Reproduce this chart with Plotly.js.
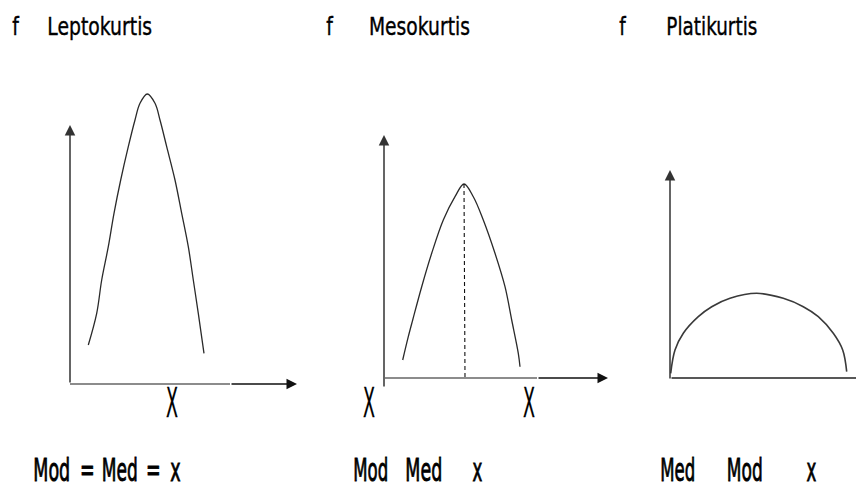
<!DOCTYPE html>
<html><head><meta charset="utf-8">
<script src="https://cdn.plot.ly/plotly-3.0.1.min.js"></script>
<style>html,body{margin:0;padding:0;background:#fff;overflow:hidden}#chart{width:856px;height:491px}</style>
</head><body><div id="chart"></div>
<script>
// ---- texts ----
const panelTitles = ['Leptokurtis', 'Mesokurtis', 'Platikurtis'];
const freqLabel = 'f';
const axisLabel = 'X';
const bottomWords = [['Mod', '=', 'Med', '=', 'x'], ['Mod', 'Med', 'x'], ['Med', 'Mod', 'x']];

// ---- curves (canvas units) ----
const leptoX = [88.3, 96.7, 101.7, 108.3, 114, 120.7, 128.3, 135, 140, 147.3, 155, 160, 166.7, 175, 181.7, 188.3, 193.3, 198.3, 204];
const leptoY = [345, 313.3, 280, 246.7, 213.3, 180, 146.7, 120, 103.3, 94, 103.3, 120, 146.7, 180, 213.3, 246.7, 280, 313.3, 353.3];
const mesoX = [402.7, 408.3, 412.7, 421.7, 431.7, 443.3, 455, 464, 473.3, 483.3, 495, 505, 511.7, 518.3, 520];
const mesoY = [360, 336.7, 320, 286.7, 253.3, 220, 196.7, 184, 196.7, 220, 253.3, 286.7, 320, 353.3, 366.7];
const platiX = [670.7, 675, 683.3, 698.3, 711.7, 730, 756.7, 783.3, 803.3, 818.3, 833.3, 842.7, 846.7];
const platiY = [373.3, 350, 333.3, 316.7, 306.7, 298.3, 293.3, 298.3, 306.7, 316.7, 333.3, 350, 371.7];
const modeLineX = [464, 465];
const modeLineY = [184, 378];

// ---- axes of the three sketches ----
const yAxisX = [70, 384, 670];
const yAxisBottom = [384, 388, 380];
const yAxisTop = [125, 135, 170];
const xAxisY = [384, 378, 378];
const xAxisLeft = [70, 385, 670];
const xAxisRight = [297, 608, 856];
const xAxisDarkFrom = [230, 537, 670];

const FONT = 'DejaVu Sans, Verdana, sans-serif';

const curveLine = {color: '#2a2a2a', width: 1.3, shape: 'spline', smoothing: 1};
const traces = [
  {x: leptoX, y: leptoY, mode: 'lines', line: curveLine, hoverinfo: 'skip'},
  {x: mesoX, y: mesoY, mode: 'lines', line: curveLine, hoverinfo: 'skip'},
  {x: platiX, y: platiY, mode: 'lines', line: {color: '#3a3a3a', width: 1.6, shape: 'spline', smoothing: 1}, hoverinfo: 'skip'},
  {x: modeLineX, y: modeLineY, mode: 'lines', line: {color: '#111', width: 1.1, dash: '4px,3px'}, hoverinfo: 'skip'}
];
// lighter part of the horizontal axes
for (let i = 0; i < 3; i++) {
  traces.push({x: [xAxisLeft[i], xAxisDarkFrom[i]], y: [xAxisY[i], xAxisY[i]], mode: 'lines',
    line: {color: i === 2 ? '#222' : '#8c8c8c', width: 2}, hoverinfo: 'skip'});
}

const annotations = [];
const fits = [];   // {w: target width, s: stroke} or {ref: annotation index}
function addText(text, x, y, size, fit, yanchor) {
  annotations.push({x: x, y: y, xref: 'x', yref: 'y', text: text, showarrow: false,
    xanchor: 'center', yanchor: yanchor || 'middle',
    font: {family: FONT, size: size, color: '#000'}});
  fits.push(fit);
  return annotations.length - 1;
}
function addArrow(x0, y0, x1, y1, color, head) {
  annotations.push({x: x1, y: y1, ax: x0, ay: y0, xref: 'x', yref: 'y', axref: 'x', ayref: 'y',
    text: '', showarrow: true, arrowhead: head, arrowsize: 1.4, arrowwidth: 1.5, arrowcolor: color});
  fits.push(null);
}

// titles
const fX = [16, 330, 623];
const titleX = [99.5, 419.5, 712];
const titleW = [105, 101, 91];
for (let i = 0; i < 3; i++) {
  const ti = addText(panelTitles[i], titleX[i], 26, 25, {w: titleW[i], s: 0.4});
  addText(freqLabel, fX[i], 26, 25, {ref: ti, s: 0.4});
}
// axis letters
addText(axisLabel, 172, 403, 41, {w: 12, s: 0.3});
addText(axisLabel, 369, 403, 41, {w: 12, s: 0.3});
addText(axisLabel, 529, 403, 41, {w: 12, s: 0.3});
// bottom words
const bottomX = [[51.5, 87, 120, 153, 175], [370.5, 423.5, 477.5], [677.5, 745, 811]];
const bottomW = [[37, 0, 36, 0, 0], [35, 37, 0], [35, 36, 0]];
for (let i = 0; i < 3; i++) {
  let first = null;
  bottomWords[i].forEach((w, j) => {
    const tw = bottomW[i][j];
    const k = addText(w, bottomX[i][j], 490.5, 32, tw ? {w: tw, s: 0.9} : {ref: first, s: 0.9}, 'bottom');
    if (first === null) first = k;
  });
}
// axes with arrows
for (let i = 0; i < 3; i++) {
  addArrow(yAxisX[i], yAxisBottom[i], yAxisX[i], yAxisTop[i], '#333', 2);
  if (i < 2) addArrow(xAxisDarkFrom[i], xAxisY[i], xAxisRight[i], xAxisY[i], '#111', 2);
  else addArrow(xAxisDarkFrom[i], xAxisY[i], xAxisRight[i], xAxisY[i], '#222', 0);
}

const layout = {
  width: 856, height: 491,
  margin: {l: 0, r: 0, t: 0, b: 0},
  paper_bgcolor: '#fff', plot_bgcolor: '#fff',
  showlegend: false,
  xaxis: {range: [0, 856], visible: false, fixedrange: true},
  yaxis: {range: [491, 0], visible: false, fixedrange: true},
  annotations: annotations
};

Plotly.newPlot('chart', traces, layout, {displayModeBar: false, staticPlot: true}).then(() => {
  const nodes = {};
  document.querySelectorAll('g.annotation').forEach(g => {
    const t = g.querySelector('text.annotation-text');
    if (t) nodes[+g.getAttribute('data-index')] = t;
  });
  const sc = {};
  fits.forEach((f, i) => {
    if (f && f.w && nodes[i]) sc[i] = f.w / nodes[i].getBBox().width;
  });
  fits.forEach((f, i) => {
    if (f && f.ref !== undefined) sc[i] = sc[f.ref];
  });
  Object.keys(sc).forEach(i => {
    const t = nodes[i], s = sc[i];
    if (!t || !s) return;
    const bb = t.getBBox();
    const cx = bb.x + bb.width / 2;
    t.setAttribute('transform', 'translate(' + cx + ',0) scale(' + s + ',1) translate(' + (-cx) + ',0)');
    if (fits[i].s) {
      t.style.stroke = '#000';
      t.style.strokeWidth = fits[i].s + 'px';
    }
  });
});
</script>
</body></html>
